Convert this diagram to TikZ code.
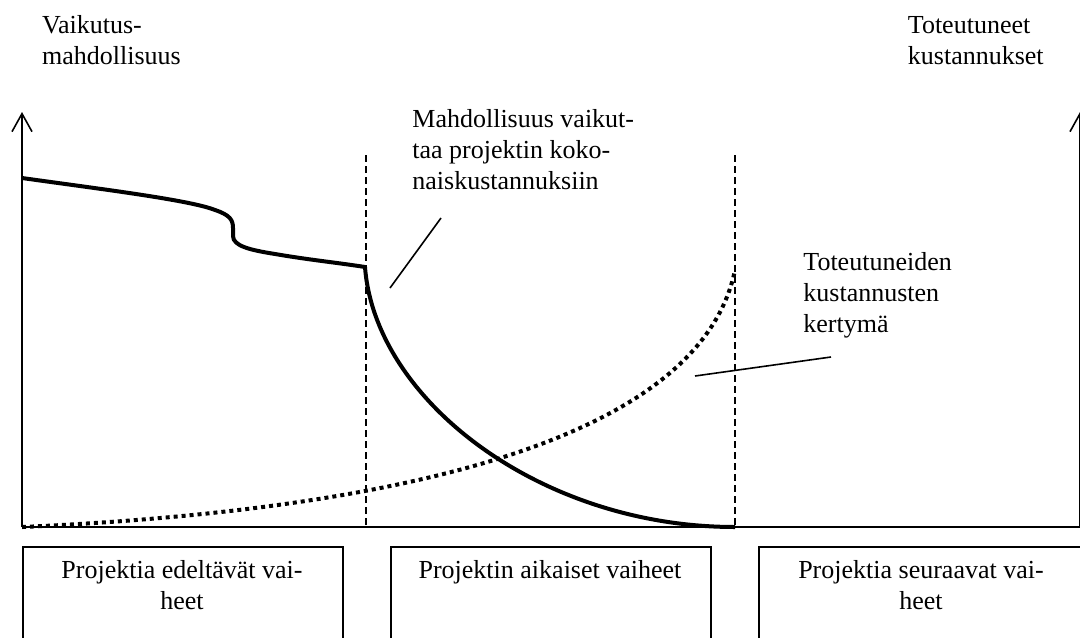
\documentclass[tikz,border=0pt]{standalone}
\usepackage{fontspec}
\setmainfont{Liberation Serif}
\usetikzlibrary{arrows.meta}
\begin{document}
\begin{tikzpicture}[x=0.5pt,y=-0.5pt,
  axis/.style={line width=1pt},
  axisarrow/.style={axis,-{Straight Barb[length=9pt,width=10pt,line width=0.8pt]}},
  guide/.style={line width=0.75pt, dash pattern=on 3.5pt off 2pt},
  impact/.style={line width=2pt, line join=round},
  cost/.style={line width=2pt, dash pattern=on 2pt off 2pt},
  pointer/.style={line width=0.8pt},
  label/.style={inner sep=0pt, anchor=base west, align=left, font=\fontsize{13}{15.5}\selectfont},
  phasebox/.style={draw, line width=1pt, anchor=north west, minimum height=60pt, inner sep=0pt},
  phasetext/.style={inner sep=0pt, anchor=base, align=center, font=\fontsize{13}{15.5}\selectfont}]
\useasboundingbox (0,0) rectangle (1080,637);

% axes
\coordinate (origin) at (22,527);
\coordinate (ytop) at (22,112);
\coordinate (xend) at (1084,527);
\coordinate (rbase) at (1080,527);
\coordinate (rtop) at (1080,112);
\draw[axisarrow] (origin) -- (ytop);
\draw[axis] (origin) -- (xend);
\draw[axisarrow] (rbase) -- (rtop);

% phase boundaries
\coordinate (s1top) at (366,155);
\coordinate (s1bot) at (366,527);
\coordinate (s2top) at (735,155);
\coordinate (s2bot) at (735,527);
\draw[guide] (s1top) -- (s1bot);
\draw[guide] (s2top) -- (s2bot);

% possibility to influence
\coordinate (istart) at (22,178);
\coordinate (istep) at (365,267);
\coordinate (iend) at (735,527);
\draw[impact] (istart) .. controls (100,189) and (190,200) .. (215,210)
  .. controls (230,215) and (233,220) .. (233,228) -- (233,236)
  .. controls (233,246) and (250,250) .. (275,254)
  .. controls (310,260) and (340,263) .. (istep)
  .. controls (375,400) and (540,527) .. (iend);

% accumulated costs
\coordinate (cend) at (735,270);
\draw[cost] (origin) .. controls (400,510) and (700,440) .. (cend);

% pointer lines
\coordinate (p1a) at (441,218);
\coordinate (p1b) at (390,288);
\coordinate (p2a) at (695,376);
\coordinate (p2b) at (831,357);
\draw[pointer] (p1a) -- (p1b);
\draw[pointer] (p2a) -- (p2b);

% labels (anchored at the baseline of their last line)
\node[label] (ylabel) at (41.7,64) {Vaikutus-\\mahdollisuus};
\node[label] (rlabel) at (907.5,64) {Toteutuneet\\kustannukset};
\node[label] (ilabel) at (412,189) {Mahdollisuus vaikut-\\taa projektin koko-\\naiskustannuksiin};
\node[label] (clabel) at (803,332) {Toteutuneiden\\kustannusten\\kertymä};

% phases
\node[phasebox, minimum width=160pt] (phase1) at (22,546) {};
\node[phasebox, minimum width=160pt] (phase2) at (390,546) {};
\node[phasebox, minimum width=163pt] (phase3) at (758,546) {};
\node[phasetext] (t1) at (182,609) {Projektia edeltävät vai-\\heet};
\node[phasetext] (t2) at (550,578) {Projektin aikaiset vaiheet};
\node[phasetext] (t3) at (921,609) {Projektia seuraavat vai-\\heet};
\end{tikzpicture}
\end{document}
